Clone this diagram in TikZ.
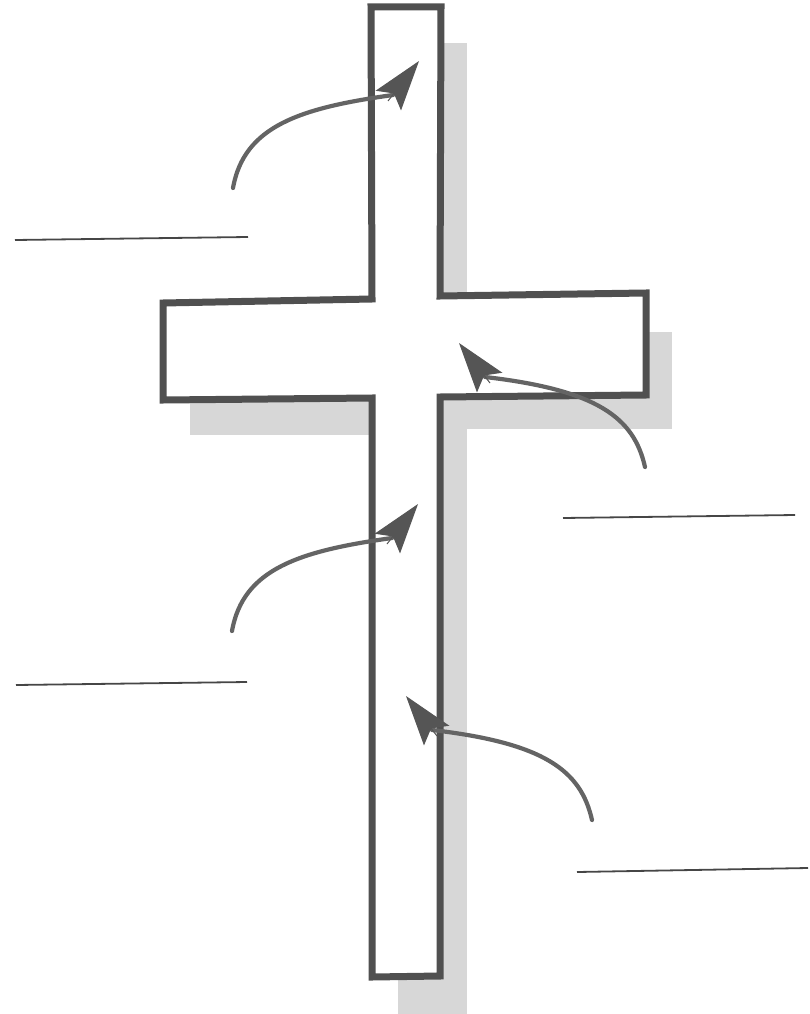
\documentclass[tikz,border=0pt]{standalone}
\usetikzlibrary{arrows.meta}
\definecolor{outl}{RGB}{80,80,80}
\definecolor{arrc}{RGB}{100,100,100}
\definecolor{headc}{RGB}{85,85,85}
\definecolor{shad}{RGB}{215,215,215}
\definecolor{leadc}{RGB}{70,70,70}
\tikzset{
  crossline/.style={draw=outl,line width=7pt,fill=white,line join=miter},
  shadowbox/.style={fill=shad,draw=none},
  shaft/.style={draw=arrc,line width=4.2pt,line cap=round},
  headtip/.style={draw=headc,line width=1pt,-{Stealth[length=50pt,width=32pt,inset=9pt,fill=headc]}},
  leader/.style={draw=leadc,line width=1.8pt},
}
\begin{document}
\begin{tikzpicture}[x=1pt,y=-1pt]
\useasboundingbox (0,0) rectangle (809,1014);
% shadow
\fill[shadowbox] (441,43) rectangle (467,1014);
\fill[shadowbox] (646,332) rectangle (672,429);
\fill[shadowbox] (190,398) rectangle (372,435);
\fill[shadowbox] (440,395) rectangle (672,429);
\fill[shadowbox] (398,975) rectangle (467,1014);
% cross
\draw[crossline] (371,7) -- (441,7) -- (440,296) -- (646,293) -- (646,395)
  -- (440,397) -- (440,976) -- (372,977) -- (372,398) -- (163,400)
  -- (163,303) -- (372,299) -- cycle;
% arrow coordinates
\coordinate (s1) at (233,188); \coordinate (b1) at (388,101); \coordinate (t1) at (419,61); \coordinate (e1) at (393,95);
\coordinate (s3) at (232,631); \coordinate (b3) at (387,544); \coordinate (t3) at (418,504); \coordinate (e3) at (392,538);
\coordinate (s2) at (645,467); \coordinate (b2) at (490,383); \coordinate (t2) at (459,343); \coordinate (e2) at (485,377);
\coordinate (s4) at (592,820); \coordinate (b4) at (437,736); \coordinate (t4) at (406,696); \coordinate (e4) at (432,730);
% arrows
\draw[shaft] (s1) .. controls (244,126) and (300,108) .. (e1);
\draw[headtip] (b1) -- (t1);
\draw[shaft] (s3) .. controls (243,569) and (299,551) .. (e3);
\draw[headtip] (b3) -- (t3);
\draw[shaft] (s2) .. controls (634,418) and (598,390) .. (e2);
\draw[headtip] (b2) -- (t2);
\draw[shaft] (s4) .. controls (581,771) and (545,743) .. (e4);
\draw[headtip] (b4) -- (t4);
% leader lines
\coordinate (l1a) at (15,240); \coordinate (l1b) at (248,237);
\coordinate (l2a) at (563,518); \coordinate (l2b) at (795,515);
\coordinate (l3a) at (16,685); \coordinate (l3b) at (247,682);
\coordinate (l4a) at (577,872); \coordinate (l4b) at (808,868);
\draw[leader] (l1a) -- (l1b);
\draw[leader] (l2a) -- (l2b);
\draw[leader] (l3a) -- (l3b);
\draw[leader] (l4a) -- (l4b);
\end{tikzpicture}
\end{document}
